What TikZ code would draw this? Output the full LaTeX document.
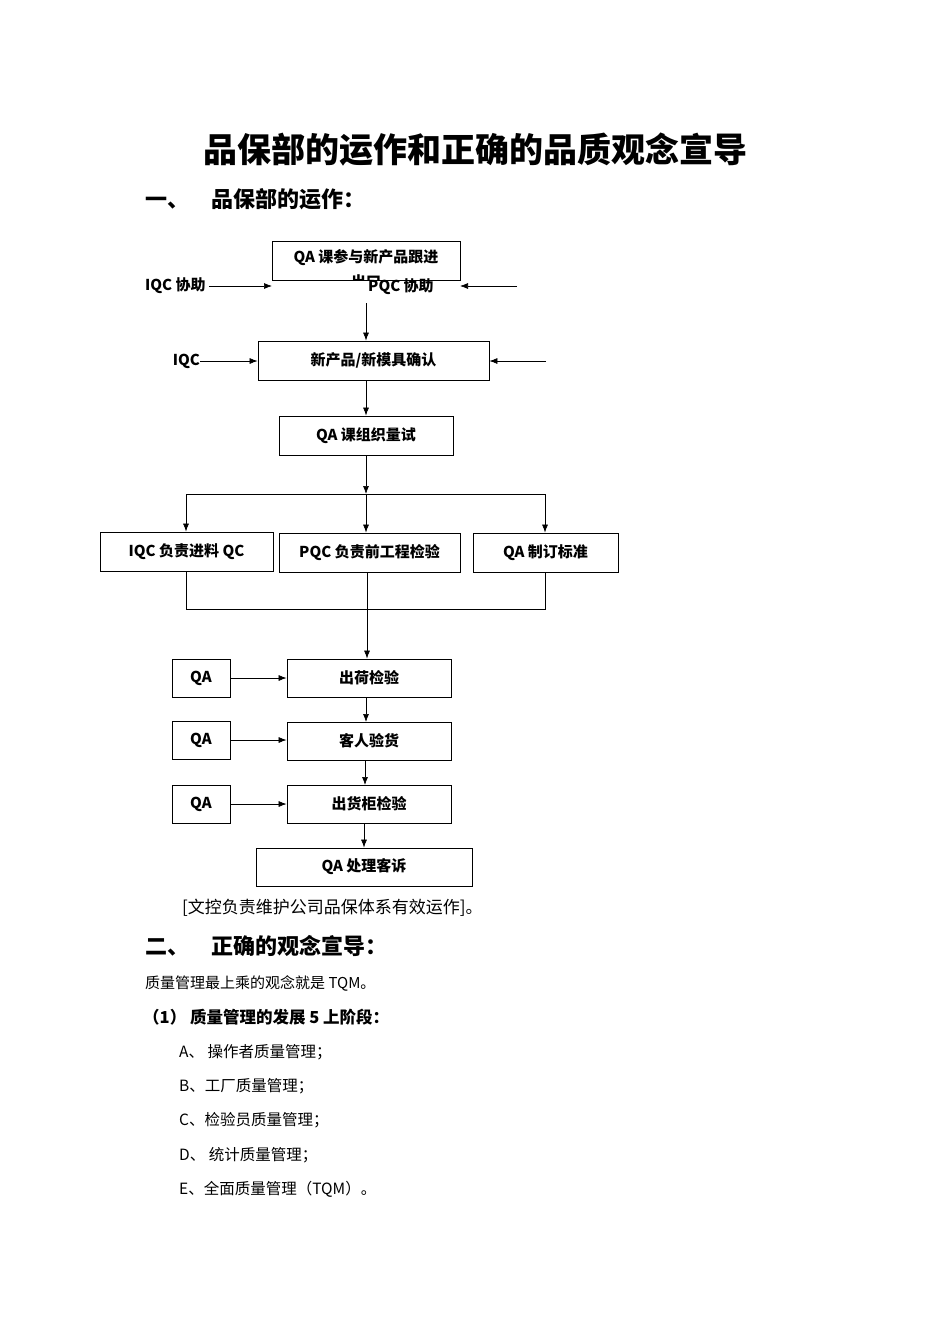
\documentclass[tikz,border=0pt]{standalone}
\usepackage{fontspec}
\setmainfont{Noto Sans CJK SC}
\usetikzlibrary{arrows.meta}
\begin{document}
\begin{tikzpicture}[x=1pt,y=-1pt,
  bx/.style={draw,line width=0.8pt,inner sep=0pt,font=\fontsize{15}{15}\selectfont\bfseries},
  lb/.style={inner sep=0pt,font=\fontsize{15}{15}\selectfont\bfseries},
  ar/.style={-{Latex[length=8pt,width=6pt]},line width=0.7pt},
  ln/.style={line width=0.7pt},
  tx/.style={inner sep=0pt,anchor=west}]
\useasboundingbox (0,0) rectangle (950,1344);
\node[font=\fontsize{34}{34}\selectfont\bfseries,inner sep=0pt] (title) at (475,150) {品保部的运作和正确的品质观念宣导};
\node[tx,font=\fontsize{22}{22}\selectfont\bfseries] (h1) at (145,199) {一、\quad 品保部的运作：};
% box 1 with clipped text
\node[bx,minimum width=188,minimum height=39] (b1) at (366,260.5) {};
\begin{scope}
\clip (273,242) rectangle (459,279);
\node[lb,align=center,font=\fontsize{15}{25}\selectfont\bfseries] (b1t) at (366,269.5) {QA 课参与新产品跟进\\出口};
\end{scope}
\node[lb,anchor=west] (iqc1) at (145,286) {IQC 协助};
\coordinate (iqc1e) at (272,286);
\draw[ar] (iqc1.east)+(3,0) -- (iqc1e);
\node[lb,anchor=west] (pqc1) at (368,287) {PQC 协助};
\coordinate (pqc1s) at (517,286);
\coordinate (pqc1e) at (460,286);
\draw[ar] (pqc1s) -- (pqc1e);
\coordinate (v1) at (366,303);
\node[bx,minimum width=231,minimum height=39] (b2) at (373.5,360.5) {\raisebox{3pt}{新产品/新模具确认}};
\draw[ar] (v1) -- (b2.north -| v1);
\node[lb,anchor=east] (iqc2) at (200,361) {IQC};
\draw[ar] (iqc2.east) -- (b2.west |- iqc2.east);
\coordinate (r2) at (546,361);
\draw[ar] (r2) -- (b2.east |- r2);
\node[bx,minimum width=174,minimum height=39] (b3) at (366,435.5) {\raisebox{3pt}{QA 课组织量试}};
\draw[ar] (b3.north |- b2.south) -- (b3.north);
\coordinate (j1) at (366,494);
\coordinate (jl) at (186,494);
\coordinate (jr) at (545,494);
\node[bx,minimum width=173,minimum height=39] (b4) at (186.5,551.5) {\raisebox{3pt}{IQC 负责进料 QC}};
\node[bx,minimum width=181,minimum height=39] (b5) at (369.5,552.5) {\raisebox{3pt}{PQC 负责前工程检验}};
\node[bx,minimum width=145,minimum height=39] (b6) at (545.5,552.5) {\raisebox{3pt}{QA 制订标准}};
\draw[ar] (b3.south) -- (j1);
\draw[ln] (jl) -- (jr);
\draw[ar] (jl) -- (jl |- b4.north);
\draw[ar] (j1) -- (j1 |- b5.north);
\draw[ar] (jr) -- (jr |- b6.north);
\coordinate (k1) at (367,609);
\draw[ln] (b4.south -| jl) -- (jl |- k1) -- (jr |- k1) -- (b6.south -| jr);
\node[bx,minimum width=164,minimum height=38] (b7) at (369,678) {\raisebox{3pt}{出荷检验}};
\draw[ar] (k1 |- b5.south) -- (k1 |- b7.north);
\node[bx,minimum width=58,minimum height=38] (q1) at (201,678) {\raisebox{3pt}{QA}};
\draw[ar] (q1.east) -- (b7.west |- q1.east);
\node[bx,minimum width=164,minimum height=38] (b8) at (369,741) {\raisebox{3pt}{客人验货}};
\draw[ar] (366,697) -- (366,722);
\node[bx,minimum width=58,minimum height=38] (q2) at (201,740) {\raisebox{3pt}{QA}};
\draw[ar] (q2.east) -- (b8.west |- q2.east);
\node[bx,minimum width=164,minimum height=38] (b9) at (369,804) {\raisebox{3pt}{出货柜检验}};
\draw[ar] (365,760) -- (365,785);
\node[bx,minimum width=58,minimum height=38] (q3) at (201,804) {\raisebox{3pt}{QA}};
\draw[ar] (q3.east) -- (b9.west |- q3.east);
\node[bx,minimum width=216,minimum height=38] (b10) at (364,867) {\raisebox{3pt}{QA 处理客诉}};
\draw[ar] (364,823) -- (b10.north);
\node[tx,font=\fontsize{17}{17}\selectfont] (note) at (182,908) {[文控负责维护公司品保体系有效运作]。};
\node[tx,font=\fontsize{22}{22}\selectfont\bfseries] (h2) at (145,946) {二、\quad 正确的观念宣导：};
\node[tx,font=\fontsize{15}{15}\selectfont] (p1) at (145,983) {质量管理最上乘的观念就是 TQM。};
\node[tx,font=\fontsize{16.5}{16}\selectfont\bfseries] (h3) at (143,1017) {（1）\ 质量管理的发展 5 上阶段：};
\begin{scope}[every node/.style={tx,font=\fontsize{15.5}{15}\selectfont}]
\node (la) at (179,1052) {A、 操作者质量管理；};
\node (lb) at (179,1086) {B、工厂质量管理；};
\node (lc) at (179,1120) {C、检验员质量管理；};
\node (ld) at (179,1155) {D、 统计质量管理；};
\node (le) at (179,1189) {E、全面质量管理（TQM）。};
\end{scope}
\end{tikzpicture}
\end{document}
